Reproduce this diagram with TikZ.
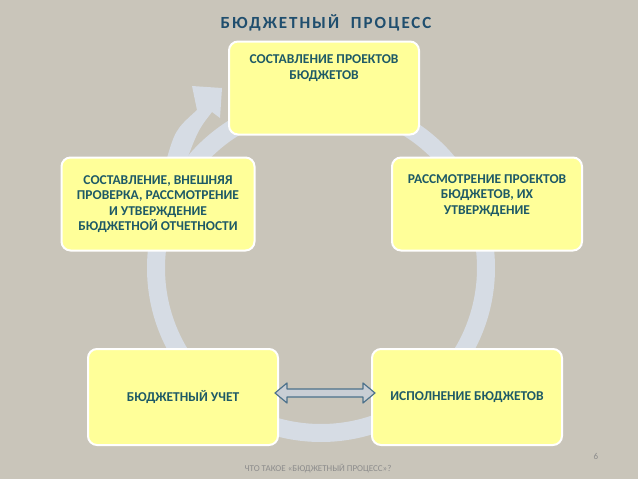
\documentclass[tikz,border=0pt]{standalone}
\usepackage{fontspec}
\setmainfont{Carlito}
\usetikzlibrary{calc}
\definecolor{bg}{HTML}{C9C5BA}
\definecolor{boxy}{HTML}{FFFF99}
\definecolor{txt}{HTML}{1E5A66}
\definecolor{ring}{HTML}{D6DCE4}
\definecolor{ttl}{HTML}{1F4E6E}
\tikzset{box/.style={draw=white,line width=2pt,fill=boxy,rounded corners=9pt,minimum width=190pt,minimum height=93pt,font=\bfseries\fontsize{13.5}{15.5}\selectfont,text=txt,align=center,inner sep=4pt}}
\begin{document}
\begin{tikzpicture}[x=1pt,y=-1pt]
\fill[bg] (0,0) rectangle (638,479);
\useasboundingbox (0,0) rectangle (638,479);
\draw[ring,line width=18pt] (321,268) circle[radius=165];
\fill[ring] (165,165) .. controls (175,130) .. (197,110) -- (192,86) -- (222,88) -- (220,118) -- (212,112) .. controls (198,130) .. (183,170) -- cycle;
\node[box] (a) at (324,88) {СОСТАВЛЕНИЕ ПРОЕКТОВ\\БЮДЖЕТОВ\\[26pt]};
\node[box] (b) at (487,204) {РАССМОТРЕНИЕ ПРОЕКТОВ\\БЮДЖЕТОВ, ИХ\\УТВЕРЖДЕНИЕ\\[4pt]};
\node[box,minimum width=193pt] (c) at (158,204) {СОСТАВЛЕНИЕ, ВНЕШНЯЯ\\ПРОВЕРКА, РАССМОТРЕНИЕ\\И УТВЕРЖДЕНИЕ\\БЮДЖЕТНОЙ ОТЧЕТНОСТИ};
\node[box,minimum height=96pt] (d) at (183,397) {БЮДЖЕТНЫЙ УЧЕТ};
\node[box,minimum height=96pt] (e) at (467,397) {ИСПОЛНЕНИЕ БЮДЖЕТОВ};
\coordinate (L) at ($(d.east|-0,393)+(-4,0)$);
\coordinate (R) at ($(e.west|-0,393)+(4,0)$);
\draw[draw=ttl!80,fill=ring!85!gray,line width=1.2pt,line join=round]
  (L) -- ($(L)+(12,-10)$) -- ($(L)+(12,-4)$) -- ($(R)+(-12,-4)$) -- ($(R)+(-12,-10)$) -- (R) -- ($(R)+(-12,10)$) -- ($(R)+(-12,4)$) -- ($(L)+(12,4)$) -- ($(L)+(12,10)$) -- cycle;
\node[font=\bfseries\fontsize{17}{20}\selectfont,text=ttl] (t) at (326,23) {\addfontfeature{LetterSpace=12}БЮДЖЕТНЫЙ\ \ ПРОЦЕСС};
\node[font=\fontsize{9}{10}\selectfont,text=gray!90] (f) at (318,469) {ЧТО ТАКОЕ «БЮДЖЕТНЫЙ ПРОЦЕСС»?};
\node[font=\fontsize{9}{10}\selectfont,text=gray!90] (n) at (596,456) {6};
\end{tikzpicture}
\end{document}
